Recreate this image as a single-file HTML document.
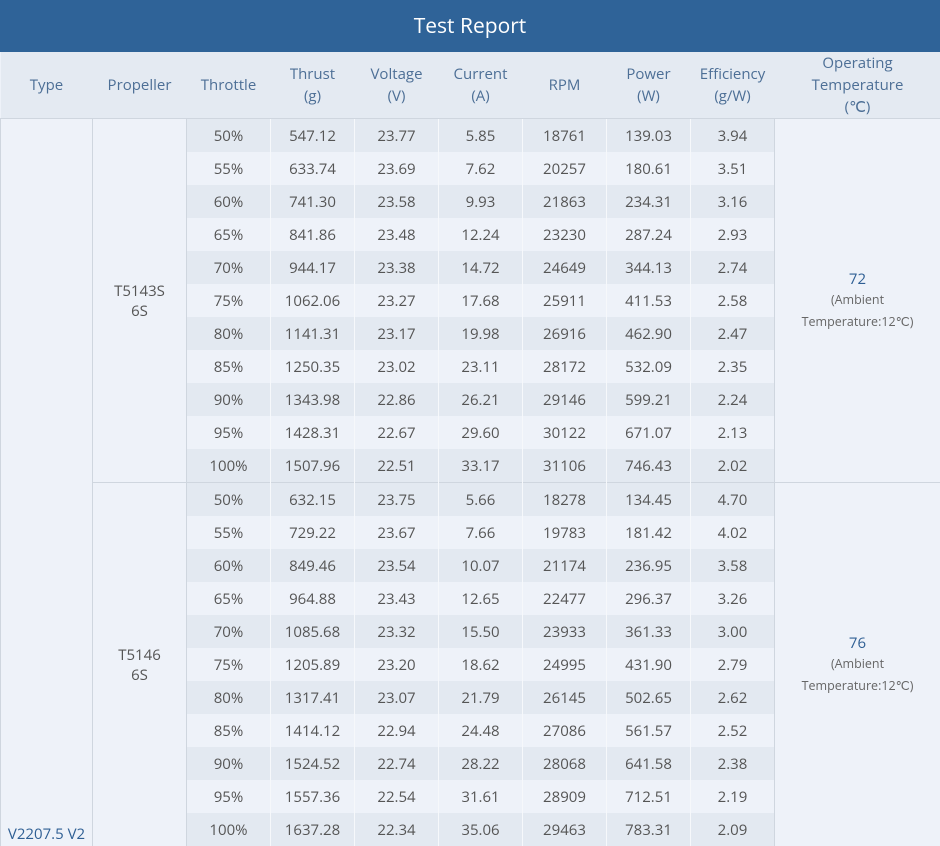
<!DOCTYPE html>
<html><head><meta charset="utf-8"><style>
body{margin:0;width:940px;height:846px;overflow:hidden;background:#eef2f9;font-family:"Open Sans","Liberation Sans",sans-serif}
.title{height:52px;background:#2f6398;color:#fff;font-size:21px;text-align:center;line-height:52px}
table{border-collapse:collapse;table-layout:fixed;width:940px}
td,th{padding:0;text-align:center;font-weight:normal}
th{height:66px;background:#e4eaf2;color:#4d6f96;font-size:15px;line-height:22px;border-bottom:1px solid #cfd6df}
td{height:33px;font-size:15px;color:#555;border-left:1px solid #f6f8fb}
tr.o td.d{background:#e3e9f1}
td.sp{border-left:1px solid #cfd6df;border-right:1px solid #cfd6df;color:#555;font-size:15px;background:#eef2f9}
td.type{color:#2f5f94;vertical-align:bottom;padding-bottom:2px;background:#eef2f9}
tr.b td{border-top:1px solid #cfd6df}
.ot{color:#2f5f94;font-size:15px}.am{color:#666;font-size:12.5px;line-height:22px}
</style></head><body>
<div class="title">Test Report</div>
<table>
<colgroup><col style="width:92px"><col style="width:94px"><col style="width:84px"><col style="width:84px"><col style="width:84px"><col style="width:84px"><col style="width:84px"><col style="width:84px"><col style="width:84px"><col style="width:166px"></colgroup>
<thead><tr><th>Type</th><th>Propeller</th><th>Throttle</th><th>Thrust<br>(g)</th><th>Voltage<br>(V)</th><th>Current<br>(A)</th><th>RPM</th><th>Power<br>(W)</th><th>Efficiency<br>(g/W)</th><th>Operating<br>Temperature<br>(℃)</th></tr></thead>
<tbody id="tb"></tbody></table>
<script>
const throttle=["50%","55%","60%","65%","70%","75%","80%","85%","90%","95%","100%"];
const p1=[["547.12","23.77","5.85","18761","139.03","3.94"],["633.74","23.69","7.62","20257","180.61","3.51"],["741.30","23.58","9.93","21863","234.31","3.16"],["841.86","23.48","12.24","23230","287.24","2.93"],["944.17","23.38","14.72","24649","344.13","2.74"],["1062.06","23.27","17.68","25911","411.53","2.58"],["1141.31","23.17","19.98","26916","462.90","2.47"],["1250.35","23.02","23.11","28172","532.09","2.35"],["1343.98","22.86","26.21","29146","599.21","2.24"],["1428.31","22.67","29.60","30122","671.07","2.13"],["1507.96","22.51","33.17","31106","746.43","2.02"]];
const p2=[["632.15","23.75","5.66","18278","134.45","4.70"],["729.22","23.67","7.66","19783","181.42","4.02"],["849.46","23.54","10.07","21174","236.95","3.58"],["964.88","23.43","12.65","22477","296.37","3.26"],["1085.68","23.32","15.50","23933","361.33","3.00"],["1205.89","23.20","18.62","24995","431.90","2.79"],["1317.41","23.07","21.79","26145","502.65","2.62"],["1414.12","22.94","24.48","27086","561.57","2.52"],["1524.52","22.74","28.22","28068","641.58","2.38"],["1557.36","22.54","31.61","28909","712.51","2.19"],["1637.28","22.34","35.06","29463","783.31","2.09"]];
const props=[["T5143S<br>6S","72",p1],["T5146<br>6S","76",p2]];
let h="";
props.forEach((p,pi)=>{p[2].forEach((r,i)=>{
 h+=`<tr class="${i%2==0?'o':''} ${i==0&&pi==1?'b':''}">`;
 if(pi==0&&i==0)h+=`<td class="sp type" rowspan="22">V2207.5 V2</td>`;
 if(i==0)h+=`<td class="sp" rowspan="11">${p[0]}</td>`;
 h+=`<td class="d">${throttle[i]}</td>`+r.map(v=>`<td class="d">${v}</td>`).join("");
 if(i==0)h+=`<td class="sp" rowspan="11"><div class="ot">${p[1]}</div><div class="am">(Ambient<br>Temperature:12℃)</div></td>`;
 h+="</tr>";});});
document.getElementById("tb").innerHTML=h;
</script>
</body></html>
